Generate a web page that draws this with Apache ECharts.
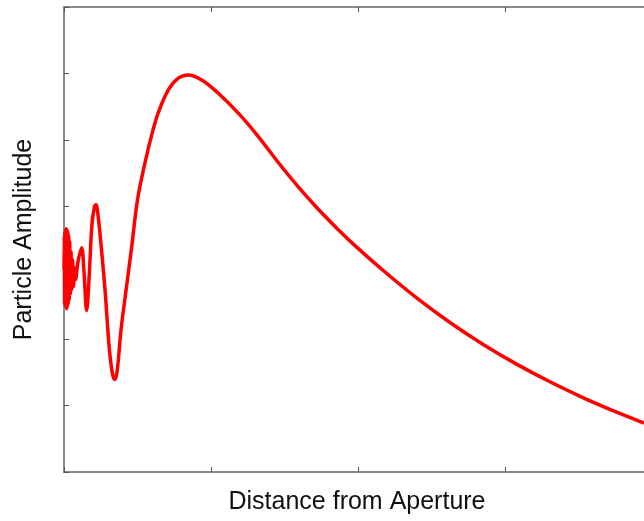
<!DOCTYPE html>
<html>
<head>
<meta charset="utf-8">
<script src="https://cdn.jsdelivr.net/npm/echarts@6/dist/echarts.min.js"></script>
<style>
html,body{margin:0;padding:0;background:#fff;}
#chart{width:644px;height:521px;}
</style>
</head>
<body>
<div id="chart"></div>
<script>
// Distance from aperture (arbitrary units)
const distance = [
  0, 0.0020, 0.0040, 0.0062, 0.0085, 0.0108, 0.0132, 0.0156, 0.0182, 0.0208, 0.0235,
  0.0263, 0.0292, 0.0322, 0.0354, 0.0388, 0.0429, 0.0476, 0.0531, 0.0585, 0.0646,
  0.0714, 0.0782, 0.0952, 0.120, 0.136, 0.154,
  0.170, 0.190, 0.207, 0.218, 0.231, 0.252, 0.279, 0.306, 0.327, 0.344, 0.361, 0.388,
  0.420, 0.461, 0.500, 0.551, 0.597, 0.641, 0.710, 0.778, 0.846, 0.937, 1.050, 1.186,
  1.322, 1.458, 1.594, 1.730, 1.866, 1.980, 2.172, 2.399, 2.626, 2.852, 3.079, 3.306,
  3.533, 3.760, 3.946
];
// Particle amplitude (arbitrary units)
const amplitude = [
  3.045, 3.556, 2.534, 3.617, 2.504, 3.647, 2.474, 3.662, 2.459, 3.647, 2.489,
  3.617, 2.534, 3.556, 2.594, 3.466, 2.684, 3.316, 2.744, 3.195, 2.790,
  3.075, 2.895, 3.165, 3.376, 3.015, 2.429,
  2.895, 3.722, 3.992, 4.023, 3.872, 3.421, 2.744, 1.917, 1.511, 1.391, 1.511, 2.143,
  2.699, 3.395, 4.098, 4.654, 5.075, 5.406, 5.752, 5.928, 5.977, 5.902, 5.702, 5.402,
  5.050, 4.659, 4.292, 3.955, 3.648, 3.408, 3.033, 2.621, 2.251, 1.920, 1.624, 1.358,
  1.117, 0.901, 0.737
];
const xTicks = [0, 1, 2, 3];
const xMax = 3.946; // axis is cut off by the picture's right edge
const yTicks = [0, 1, 2, 3, 4, 5, 6, 7];

const chart = echarts.init(document.getElementById('chart'), null, {renderer: 'canvas'});
const pts = distance.map((d, i) => [d, amplitude[i]]);
const axisLine = {show: true, lineStyle: {color: '#8a8a8a', width: 2}};
const axisTick = {show: true, inside: true, length: 5, lineStyle: {color: '#555', width: 1}};
const nameStyle = {fontFamily: 'Liberation Sans, Arial, sans-serif', fontSize: 25, color: '#111'};
chart.setOption({
  animation: false,
  backgroundColor: '#fff',
  grid: {left: 64, top: 7, right: 0, height: 465, containLabel: false},
  xAxis: [{
    type: 'value', min: xTicks[0], max: xMax, interval: 1,
    position: 'bottom',
    name: 'Distance from Aperture', nameLocation: 'middle', nameGap: 18,
    nameTextStyle: Object.assign({padding: [0, 0, 0, 6]}, nameStyle),
    axisLine: axisLine, axisTick: axisTick, axisLabel: {show: false}, splitLine: {show: false}
  }, {
    type: 'value', min: xTicks[0], max: xMax, interval: 1,
    position: 'top',
    axisLine: axisLine, axisTick: axisTick, axisLabel: {show: false}, splitLine: {show: false}
  }],
  yAxis: [{
    type: 'value', min: yTicks[0], max: yTicks[yTicks.length - 1], interval: 1,
    name: 'Particle Amplitude', nameLocation: 'middle', nameGap: 27,
    nameTextStyle: nameStyle,
    axisLine: axisLine, axisTick: axisTick, axisLabel: {show: false}, splitLine: {show: false}
  }],
  series: [{
    type: 'line', data: pts, showSymbol: false, smooth: 0.35,
    lineStyle: {color: '#ff0000', width: 3.5},
    clip: true
  }]
});
</script>
</body>
</html>
